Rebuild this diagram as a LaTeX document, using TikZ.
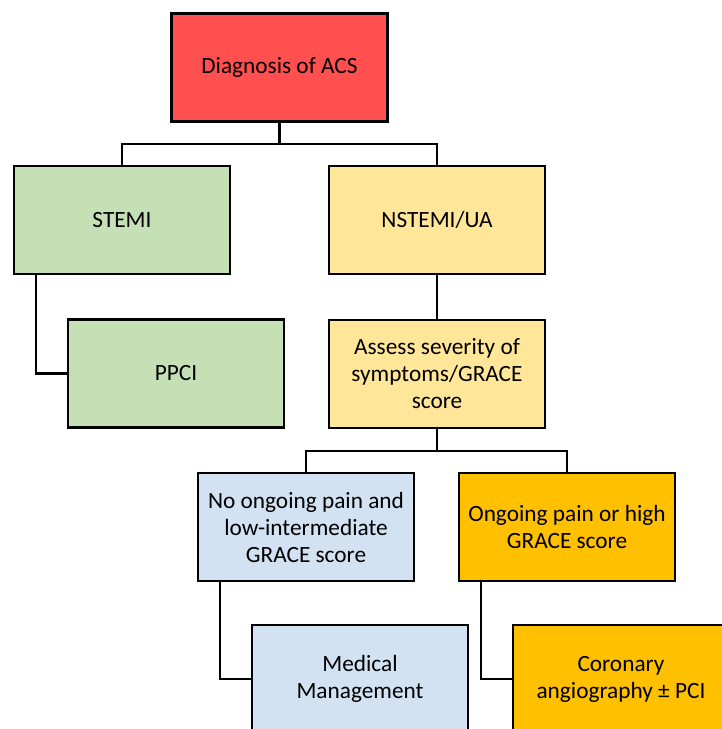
\documentclass[tikz,border=0pt]{standalone}
\usepackage{fontspec}
\setmainfont{Carlito}
\definecolor{cred}{HTML}{FF4F4F}
\definecolor{cgreen}{HTML}{C5E0B4}
\definecolor{cyellow}{HTML}{FFE699}
\definecolor{cblue}{HTML}{D2E2F3}
\definecolor{corange}{HTML}{FFC000}
\begin{document}
\begin{tikzpicture}[x=1pt,y=-1pt,
  box/.style={draw=black, line width=2.6pt, minimum width=216pt, minimum height=108pt,
    align=center, inner sep=2pt, font=\fontsize{23.3}{27}\selectfont},
  conn/.style={draw=black, line width=2.3pt}]
\clip (0,0) rectangle (722,729);
\useasboundingbox (0,0) rectangle (722,729);
\node[box, fill=cred] (diag) at (279.5,67.5) {Diagnosis of ACS};
\node[box, fill=cgreen] (stemi) at (122,220) {STEMI};
\node[box, fill=cyellow] (nstemi) at (437,220) {NSTEMI/UA};
\node[box, fill=cgreen] (ppci) at (176,373.5) {PPCI};
\node[box, fill=cyellow] (assess) at (437,374) {Assess severity of\\symptoms/GRACE\\score};
\node[box, fill=cblue] (noong) at (306,527) {No ongoing pain and\\low-intermediate\\GRACE score};
\node[box, fill=corange] (ong) at (567,527) {Ongoing pain or high\\GRACE score};
\node[box, fill=cblue] (med) at (360,679) {Medical\\Management};
\node[box, fill=corange] (cor) at (621,679) {Coronary\\angiography ± PCI};
\coordinate (j1) at (279.5,144);
\coordinate (j2) at (437,451);
\draw[conn] (diag.south) -- (j1);
\draw[conn] (j1) -| (stemi.north);
\draw[conn] (j1) -| (nstemi.north);
\draw[conn] ([xshift=-86pt]stemi.south) |- (ppci.west);
\draw[conn] (nstemi.south) -- (assess.north);
\draw[conn] (assess.south) -- (j2);
\draw[conn] (j2) -| (noong.north);
\draw[conn] (j2) -| (ong.north);
\draw[conn] ([xshift=-86pt]noong.south) |- (med.west);
\draw[conn] ([xshift=-86pt]ong.south) |- (cor.west);
\end{tikzpicture}
\end{document}
